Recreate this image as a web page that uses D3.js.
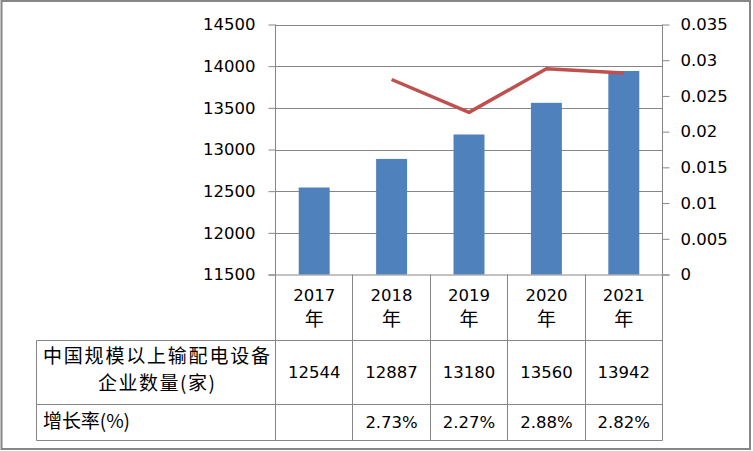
<!DOCTYPE html>
<html><head><meta charset="utf-8">
<script src="https://cdn.jsdelivr.net/npm/d3@7"></script>
<style>body{margin:0;background:#fff}svg{display:block}</style>
</head><body><svg id="c" width="753" height="451"></svg>
<script>
const years = ["2017","2018","2019","2020","2021"];
const yearSuffix = "年";
const counts = [12544, 12887, 13180, 13560, 13942];
const rates = [null, 0.0273, 0.0227, 0.0288, 0.0282];
const rateLabels = ["", "2.73%", "2.27%", "2.88%", "2.82%"];
const leftTicks = [11500, 12000, 12500, 13000, 13500, 14000, 14500];
const rightTicks = [0, 0.005, 0.01, 0.015, 0.02, 0.025, 0.03, 0.035];
const rowLabel1 = ["中国规模以上输配电设备", "企业数量(家)"];
const rowLabel2 = "增长率(%)";

const svg = d3.select("#c");
const L = 275.5, R = 662.5, T = 24.5, B = 274.5;
const tableLeft = 36.5, row1 = 340.5, row2 = 404.5, row3 = 440.5;
const grid = "#868686";
const numFont = "'DejaVu Sans', Verdana, sans-serif";
const cjkFont = "'Noto Sans CJK SC', sans-serif";

svg.append("rect").attr("x",1.5).attr("y",1).attr("width",748.5).attr("height",448)
  .attr("fill","#fff").attr("stroke",grid).attr("stroke-width",2);

const x = d3.scaleBand().domain(years).range([L, R]).paddingInner(0.6).paddingOuter(0.3);
const step = x.step();
const cx = d => x(d) + x.bandwidth()/2;
const yL = d3.scaleLinear().domain([11500, 14500]).range([B, T]);
const yR = d3.scaleLinear().domain([0, 0.035]).range([B, T]);

// gridlines
svg.append("g").selectAll("line").data(leftTicks.filter(t=>t>11500)).join("line")
  .attr("x1",L).attr("x2",R).attr("y1",d=>Math.round(yL(d))+0.5).attr("y2",d=>Math.round(yL(d))+0.5)
  .attr("stroke",grid).attr("stroke-width",1);

// bars
svg.append("g").selectAll("rect").data(counts).join("rect")
  .attr("x",(d,i)=>x(years[i])).attr("width",x.bandwidth())
  .attr("y",d=>yL(d)).attr("height",d=>B-yL(d)).attr("fill","#4F81BD");

// line
const line = d3.line().defined(d=>d[1]!=null).x(d=>cx(d[0])).y(d=>yR(d[1]));
svg.append("path").datum(years.map((y,i)=>[y,rates[i]])).attr("d",line)
  .attr("fill","none").attr("stroke","#C0504D").attr("stroke-width",3.5).attr("stroke-linejoin","round");

// left axis
const gl = svg.append("g").attr("transform",`translate(${L},0)`)
  .call(d3.axisLeft(yL).tickValues(leftTicks).tickSize(7).tickPadding(13).tickSizeOuter(0).tickFormat(d3.format("d")));
gl.select(".domain").remove();
gl.selectAll(".tick line").attr("stroke",grid);
gl.selectAll(".tick text").attr("font-family",numFont).attr("font-size",16.5).attr("fill","#000");

// right axis
const gr = svg.append("g").attr("transform",`translate(${R},0)`)
  .call(d3.axisRight(yR).tickValues(rightTicks).tickSize(7).tickPadding(11).tickSizeOuter(0).tickFormat(d=>String(+d.toFixed(3))));
gr.select(".domain").remove();
gr.selectAll(".tick line").attr("stroke",grid);
gr.selectAll(".tick text").attr("font-family",numFont).attr("font-size",16.5).attr("fill","#000");

// axis lines
const g = svg.append("g").attr("stroke",grid).attr("stroke-width",1);
g.append("line").attr("x1",L-7).attr("x2",R+7).attr("y1",B+0.5).attr("y2",B+0.5);
// vertical table/category lines
const bounds = years.map(y=>cx(y)-step/2).concat([cx(years[years.length-1])+step/2]);
g.selectAll(".v").data(bounds).join("line").attr("class","v")
  .attr("x1",d=>Math.round(d-0.5)+0.5).attr("x2",d=>Math.round(d-0.5)+0.5)
  .attr("y1",(d,i)=> (i===0||i===bounds.length-1) ? T : B).attr("y2",row3);
g.append("line").attr("x1",tableLeft).attr("x2",tableLeft).attr("y1",row1).attr("y2",row3);
[row1,row2,row3].forEach(r=>g.append("line").attr("x1",tableLeft).attr("x2",R).attr("y1",r).attr("y2",r));

// category labels
const cat = svg.append("g");
years.forEach(y=>{
  cat.append("text").attr("x",cx(y)).attr("y",301).attr("text-anchor","middle")
    .attr("font-family",numFont).attr("font-size",16.5).text(y);
  cat.append("text").attr("x",cx(y)).attr("y",326).attr("text-anchor","middle")
    .attr("font-family",cjkFont).attr("font-size",19).text(yearSuffix);
});

// table values
years.forEach((y,i)=>{
  cat.append("text").attr("x",cx(y)).attr("y",378).attr("text-anchor","middle")
    .attr("font-family",numFont).attr("font-size",16.5).text(counts[i]);
  cat.append("text").attr("x",cx(y)).attr("y",428).attr("text-anchor","middle")
    .attr("font-family",numFont).attr("font-size",16.5).text(rateLabels[i]);
});

// row labels
cat.append("text").attr("x",43).attr("y",363).attr("font-family",cjkFont).attr("font-size",19)
  .attr("textLength",227).attr("lengthAdjust","spacing").text(rowLabel1[0]);
cat.append("text").attr("x",98).attr("y",390).attr("font-family",cjkFont).attr("font-size",19)
  .attr("textLength",117).attr("lengthAdjust","spacing").text(rowLabel1[1]);
cat.append("text").attr("x",43).attr("y",428).attr("font-family",cjkFont).attr("font-size",19)
  .attr("textLength",87).attr("lengthAdjust","spacing").text(rowLabel2);
</script></body></html>
